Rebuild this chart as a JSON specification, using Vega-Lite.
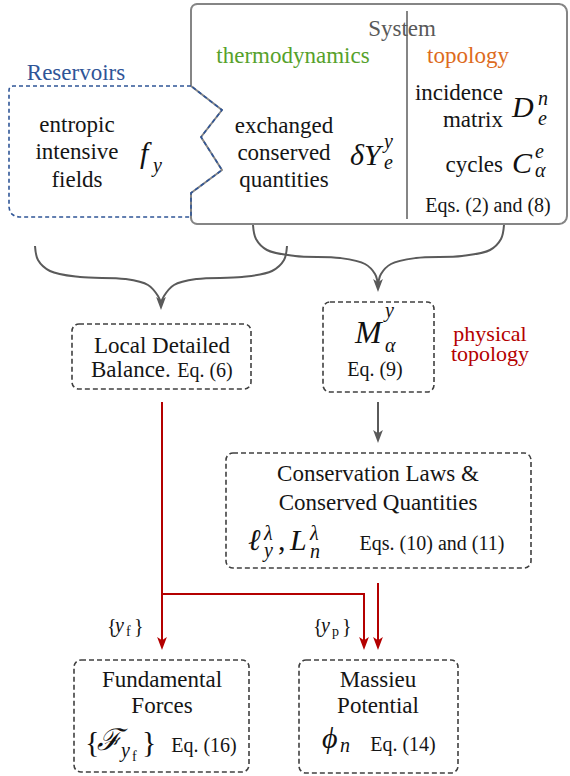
{
 "$schema": "https://vega.github.io/schema/vega-lite/v6.json",
 "width": 570, "height": 776, "padding": 0, "autosize": {"type": "none"},
 "background": "white",
 "config": {"view": {"stroke": null}},
 "datasets": {
  "sys": [
   {"x":191,"y":86},{"x":191,"y":10},{"x":191.46,"y":7.7},{"x":192.76,"y":5.76},{"x":194.7,"y":4.46},{"x":197,"y":4},
   {"x":559,"y":4},{"x":562.06,"y":4.61},{"x":564.66,"y":6.34},{"x":566.39,"y":8.94},{"x":567,"y":12},
   {"x":567,"y":216},{"x":566.39,"y":219.06},{"x":564.66,"y":221.66},{"x":562.06,"y":223.39},{"x":559,"y":224},
   {"x":197,"y":224},{"x":194.7,"y":223.54},{"x":192.76,"y":222.24},{"x":191.46,"y":220.3},{"x":191,"y":218},
   {"x":191,"y":193},{"x":222,"y":170},{"x":201,"y":137},{"x":222,"y":110},{"x":191,"y":86}
  ],
  "res": [
   {"x":191,"y":86},{"x":13,"y":86},{"x":11.47,"y":86.3},{"x":10.17,"y":87.17},{"x":9.3,"y":88.47},{"x":9,"y":90},
   {"x":9,"y":207},{"x":9.76,"y":210.83},{"x":11.93,"y":214.07},{"x":15.17,"y":216.24},{"x":19,"y":217},
   {"x":191,"y":217},{"x":191,"y":193},{"x":222,"y":170},{"x":201,"y":137},{"x":222,"y":110},{"x":191,"y":86}
  ],
  "braces": [
   {"id":"l1","x":35,"y":246},{"id":"l1","x":38,"y":260},{"id":"l1","x":50,"y":271},{"id":"l1","x":80,"y":277},{"id":"l1","x":125,"y":279},{"id":"l1","x":148,"y":285},{"id":"l1","x":158,"y":296},{"id":"l1","x":161,"y":303},
   {"id":"l2","x":287,"y":246},{"id":"l2","x":284,"y":260},{"id":"l2","x":272,"y":271},{"id":"l2","x":242,"y":277},{"id":"l2","x":197,"y":279},{"id":"l2","x":174,"y":285},{"id":"l2","x":164,"y":296},{"id":"l2","x":161,"y":303},
   {"id":"r1","x":253,"y":225},{"id":"r1","x":256,"y":239},{"id":"r1","x":267,"y":250},{"id":"r1","x":295,"y":256},{"id":"r1","x":340,"y":258},{"id":"r1","x":365,"y":264},{"id":"r1","x":375,"y":274},{"id":"r1","x":378,"y":285},
   {"id":"r2","x":504,"y":225},{"id":"r2","x":501,"y":239},{"id":"r2","x":490,"y":250},{"id":"r2","x":462,"y":256},{"id":"r2","x":416,"y":258},{"id":"r2","x":391,"y":264},{"id":"r2","x":381,"y":274},{"id":"r2","x":378,"y":285}
  ],
  "garrow": [{"id":"a","x":378,"y":402},{"id":"a","x":378,"y":437}],
  "rarrow": [
   {"id":"r1","x":162,"y":402},{"id":"r1","x":162,"y":644},
   {"id":"r2","x":162,"y":594},{"id":"r2","x":364,"y":594},{"id":"r2","x":364,"y":644},
   {"id":"r3","x":378,"y":583},{"id":"r3","x":378,"y":644}
  ],
  "gheads": [{"x":161,"y":303.5},{"x":378,"y":285.5},{"x":378,"y":436.5}],
  "rheads": [{"x":162,"y":643.5},{"x":364,"y":643.5},{"x":378,"y":643.5}],
  "boxes": [
   {"x":72,"x2":251,"y":324,"y2":389},
   {"x":323,"x2":434,"y":302,"y2":392},
   {"x":226,"x2":531,"y":453,"y2":568},
   {"x":74,"x2":249,"y":660,"y2":772},
   {"x":299,"x2":458,"y":660,"y2":773}
  ],
  "t_main": [
   {"t":"entropic","x":77,"y":132},{"t":"intensive","x":77,"y":159},{"t":"fields","x":77,"y":187},
   {"t":"exchanged","x":284,"y":133},{"t":"conserved","x":284,"y":160},{"t":"quantities","x":284,"y":187},
   {"t":"Local Detailed","x":162,"y":353},
   {"t":"Conservation Laws &","x":378,"y":481},{"t":"Conserved Quantities","x":378,"y":510},
   {"t":"Fundamental","x":162,"y":687},{"t":"Forces","x":162,"y":713},
   {"t":"Massieu","x":378,"y":687},{"t":"Potential","x":378,"y":713}
  ],
  "t_right": [{"t":"incidence","x":503,"y":100},{"t":"matrix","x":503,"y":127},{"t":"cycles","x":503,"y":172}],
  "t_left": [{"t":"Balance.","x":91,"y":377}],
  "t_eq": [
   {"t":"Eqs. (2) and (8)","x":488,"y":212},{"t":"Eq. (6)","x":205,"y":377},{"t":"Eq. (9)","x":375,"y":376},
   {"t":"Eqs. (10) and (11)","x":432,"y":550},{"t":"Eq. (16)","x":204,"y":752},{"t":"Eq. (14)","x":403,"y":751}
  ],
  "t_sys": [{"t":"System","x":402,"y":36}],
  "t_green": [{"t":"thermodynamics","x":293,"y":63}],
  "t_orange": [{"t":"topology","x":468,"y":63}],
  "t_blue": [{"t":"Reservoirs","x":76,"y":80}],
  "t_red": [{"t":"physical","x":490,"y":341},{"t":"topology","x":490,"y":361}],
  "m_big": [
   {"t":"f","x":140,"y":163},{"t":"δY","x":350,"y":165},{"t":"D","x":512,"y":117},{"t":"C","x":512,"y":173},
   {"t":"ℓ","x":248,"y":550},{"t":"L","x":290,"y":550},{"t":"ϕ","x":322,"y":748},{"t":"ℱ","x":97,"y":750}
  ],
  "m_bigM": [{"t":"M","x":355,"y":343}],
  "m_upbig": [{"t":"{","x":85,"y":752},{"t":"}","x":142,"y":752},{"t":",","x":278,"y":550}],
  "m_script": [
   {"t":"y","x":153,"y":172},{"t":"y","x":384,"y":148},{"t":"e","x":384,"y":169},
   {"t":"n","x":538,"y":105},{"t":"e","x":538,"y":125},{"t":"e","x":535,"y":158},{"t":"α","x":535,"y":177},
   {"t":"y","x":385,"y":317},{"t":"α","x":385,"y":352},
   {"t":"λ","x":264,"y":540},{"t":"y","x":264,"y":557},{"t":"λ","x":310,"y":540},{"t":"n","x":310,"y":558},
   {"t":"n","x":340,"y":752},{"t":"y","x":121,"y":757},{"t":"y","x":115,"y":632},{"t":"y","x":321,"y":632}
  ],
  "m_up20": [{"t":"{","x":107,"y":633},{"t":"}","x":134,"y":633},{"t":"{","x":313,"y":633},{"t":"}","x":342,"y":633}],
  "m_up14": [{"t":"f","x":126,"y":636},{"t":"p","x":332,"y":636},{"t":"f","x":132,"y":761}]
 },
 "encoding": {
  "x": {"field":"x","type":"quantitative","scale":{"domain":[0,570],"nice":false,"zero":false},"axis":null},
  "y": {"field":"y","type":"quantitative","scale":{"domain":[0,776],"nice":false,"zero":false,"reverse":true},"axis":null}
 },
 "layer": [
  {"data":{"name":"sys"},"mark":{"type":"line","stroke":"#858585","strokeWidth":2,"strokeJoin":"round"},"encoding":{"order":{"value":null}}},
  {"data":{"values":[{"x":407,"y":11,"y2":219}]},"mark":{"type":"rule","stroke":"#858585","strokeWidth":2},"encoding":{"y2":{"field":"y2"}}},
  {"data":{"name":"res"},"mark":{"type":"line","stroke":"#2f5597","strokeWidth":1.6,"strokeDash":[4,3]},"encoding":{"order":{"value":null}}},
  {"data":{"name":"braces"},"mark":{"type":"line","stroke":"#5a5a5a","strokeWidth":2,"interpolate":"catmull-rom"},"encoding":{"detail":{"field":"id"},"order":{"value":null}}},
  {"data":{"name":"garrow"},"mark":{"type":"line","stroke":"#5a5a5a","strokeWidth":2},"encoding":{"detail":{"field":"id"},"order":{"value":null}}},
  {"data":{"name":"rarrow"},"mark":{"type":"line","stroke":"#b40000","strokeWidth":2},"encoding":{"detail":{"field":"id"},"order":{"value":null}}},
  {"data":{"name":"gheads"},"mark":{"type":"point","shape":"M0,1L-0.75,-1L0,-0.5L0.75,-1Z","filled":true,"size":170,"color":"#5a5a5a","opacity":1}},
  {"data":{"name":"rheads"},"mark":{"type":"point","shape":"M0,1L-0.75,-1L0,-0.5L0.75,-1Z","filled":true,"size":170,"color":"#b40000","opacity":1}},
  {"data":{"name":"boxes"},"mark":{"type":"rect","filled":false,"stroke":"#404040","strokeWidth":1.6,"strokeDash":[5,3],"cornerRadius":7},"encoding":{"x2":{"field":"x2"},"y2":{"field":"y2"}}},
  {"data":{"name":"t_main"},"mark":{"type":"text","font":"Liberation Serif","fontSize":23,"align":"center","baseline":"alphabetic","color":"#151515"},"encoding":{"text":{"field":"t"}}},
  {"data":{"name":"t_right"},"mark":{"type":"text","font":"Liberation Serif","fontSize":23,"align":"right","baseline":"alphabetic","color":"#151515"},"encoding":{"text":{"field":"t"}}},
  {"data":{"name":"t_left"},"mark":{"type":"text","font":"Liberation Serif","fontSize":23,"align":"left","baseline":"alphabetic","color":"#151515"},"encoding":{"text":{"field":"t"}}},
  {"data":{"name":"t_eq"},"mark":{"type":"text","font":"Liberation Serif","fontSize":20,"align":"center","baseline":"alphabetic","color":"#151515"},"encoding":{"text":{"field":"t"}}},
  {"data":{"name":"t_sys"},"mark":{"type":"text","font":"Liberation Serif","fontSize":23,"align":"center","baseline":"alphabetic","color":"#595959"},"encoding":{"text":{"field":"t"}}},
  {"data":{"name":"t_green"},"mark":{"type":"text","font":"Liberation Serif","fontSize":23,"align":"center","baseline":"alphabetic","color":"#56a12b"},"encoding":{"text":{"field":"t"}}},
  {"data":{"name":"t_orange"},"mark":{"type":"text","font":"Liberation Serif","fontSize":23,"align":"center","baseline":"alphabetic","color":"#dd6b20"},"encoding":{"text":{"field":"t"}}},
  {"data":{"name":"t_blue"},"mark":{"type":"text","font":"Liberation Serif","fontSize":23,"align":"center","baseline":"alphabetic","color":"#2f5597"},"encoding":{"text":{"field":"t"}}},
  {"data":{"name":"t_red"},"mark":{"type":"text","font":"Liberation Serif","fontSize":22,"align":"center","baseline":"alphabetic","color":"#b40000"},"encoding":{"text":{"field":"t"}}},
  {"data":{"name":"m_big"},"mark":{"type":"text","font":"Liberation Serif, DejaVu Serif","fontSize":30,"fontStyle":"italic","align":"left","baseline":"alphabetic","color":"#111111"},"encoding":{"text":{"field":"t"}}},
  {"data":{"name":"m_bigM"},"mark":{"type":"text","font":"Liberation Serif","fontSize":32,"fontStyle":"italic","align":"left","baseline":"alphabetic","color":"#111111"},"encoding":{"text":{"field":"t"}}},
  {"data":{"name":"m_upbig"},"mark":{"type":"text","font":"Liberation Serif","fontSize":30,"align":"left","baseline":"alphabetic","color":"#111111"},"encoding":{"text":{"field":"t"}}},
  {"data":{"name":"m_script"},"mark":{"type":"text","font":"Liberation Serif, DejaVu Serif","fontSize":20,"fontStyle":"italic","align":"left","baseline":"alphabetic","color":"#111111"},"encoding":{"text":{"field":"t"}}},
  {"data":{"name":"m_up20"},"mark":{"type":"text","font":"Liberation Serif","fontSize":20,"align":"left","baseline":"alphabetic","color":"#111111"},"encoding":{"text":{"field":"t"}}},
  {"data":{"name":"m_up14"},"mark":{"type":"text","font":"Liberation Serif","fontSize":14,"align":"left","baseline":"alphabetic","color":"#111111"},"encoding":{"text":{"field":"t"}}}
 ]
}
